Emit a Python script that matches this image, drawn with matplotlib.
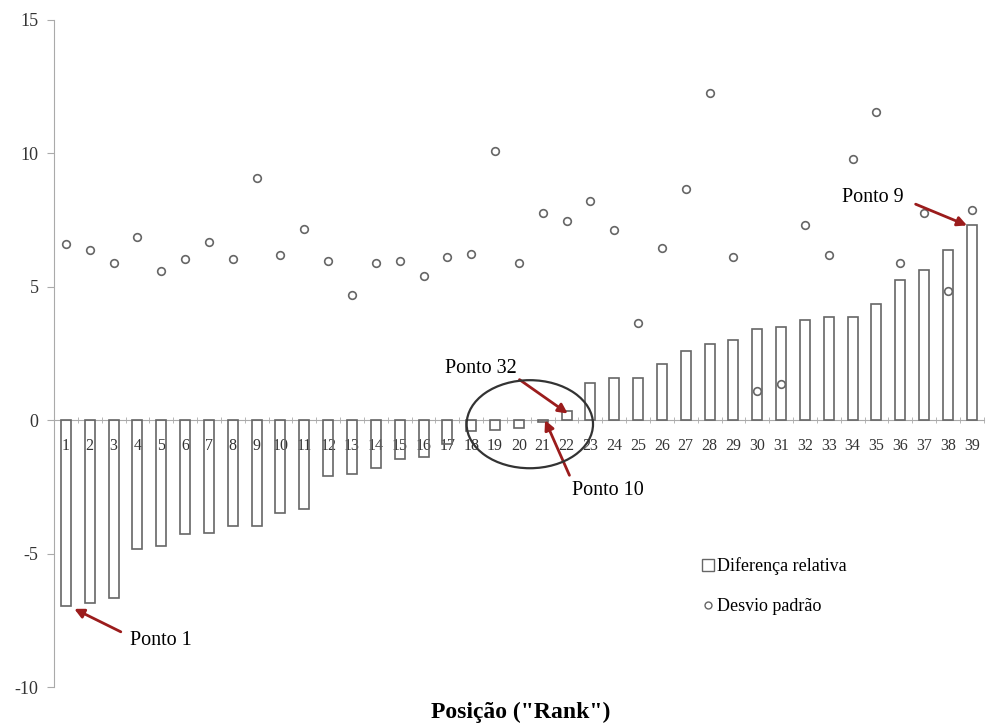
import numpy as np
import matplotlib.pyplot as plt
from matplotlib.lines import Line2D
from matplotlib.patches import Ellipse

plt.rcParams['font.family'] = ['Liberation Serif', 'DejaVu Serif']

rank = list(range(1, 40))
rank_labels = [str(r) for r in rank]

# Diferença relativa (barras)
diferenca = [-6.97, -6.84, -6.67, -4.81, -4.73, -4.27, -4.21, -3.98, -3.98, -3.46,
             -3.33, -2.10, -2.00, -1.80, -1.45, -1.38, -0.90, -0.42, -0.35, -0.30,
             -0.05, 0.35, 1.40, 1.60, 1.60, 2.10, 2.60, 2.87, 3.00, 3.43,
             3.50, 3.77, 3.85, 3.85, 4.37, 5.27, 5.64, 6.39, 7.30]

# Desvio padrão (pontos)
desvio = [6.60, 6.39, 5.89, 6.88, 5.61, 6.06, 6.67, 6.06, 9.09, 6.19,
          7.17, 5.98, 4.69, 5.90, 5.98, 5.39, 6.12, 6.24, 10.09, 5.90,
          7.75, 7.47, 8.20, 7.12, 3.64, 6.47, 8.66, 12.28, 6.12, 1.10,
          1.35, 7.33, 6.18, 9.80, 11.57, 5.90, 7.75, 4.84, 7.89]

yticks = [-10, -5, 0, 5, 10, 15]

seta = '#9b1c1c'
cinza = '#666666'

fig = plt.figure(figsize=(9.87, 7.27), dpi=100)
ax = fig.add_axes([0.0547, 0.055, 0.942, 0.9175])

ax.bar(rank, diferenca, width=0.42, facecolor='none', edgecolor=cinza,
       linewidth=1.2, zorder=2)
ax.plot(rank, desvio, linestyle='none', marker='o', markersize=5.5,
        markerfacecolor='white', markeredgecolor='#666666',
        markeredgewidth=1.2, zorder=3)

ax.set_xlim(0.5, 39.5)
ax.set_ylim(-10, 15)

for s in ['top', 'right']:
    ax.spines[s].set_visible(False)
ax.spines['left'].set_color('#aaaaaa')
ax.spines['bottom'].set_color('#aaaaaa')
ax.spines['bottom'].set_position(('data', 0))
ax.spines['bottom'].set_zorder(1)

ax.set_xticks(rank)
ax.set_xticklabels(rank_labels, fontsize=11.5, color='#333333')
ax.set_xticks(np.arange(0.5, 40, 1), minor=True)
ax.tick_params(axis='x', which='major', length=0, pad=13)
ax.tick_params(axis='x', which='minor', length=4, direction='inout',
               color='#aaaaaa')

ax.set_yticks(yticks)
ax.set_yticklabels([str(v) for v in yticks], fontsize=13, color='#333333')
ax.tick_params(axis='y', length=5, color='#aaaaaa', pad=6)

ax.add_patch(Ellipse((20.46, -0.15), 5.3, 3.3, fill=False,
                     edgecolor='#333333', linewidth=1.6, zorder=4))

props = dict(arrowstyle='-|>', color=seta, lw=2, mutation_scale=14)
ax.annotate('Ponto 1', xy=(1.35, diferenca[0] - 0.1), xytext=(3.68, -8.24),
            fontsize=14.5, ha='left', va='center',
            arrowprops=dict(props, relpos=(0, 0.7), shrinkA=5, shrinkB=0))
ax.annotate('Ponto 9', xy=(38.8, diferenca[38]), xytext=(36.15, 8.35),
            fontsize=14.5, ha='right', va='center',
            arrowprops=dict(props, relpos=(1, 0.4), shrinkA=7, shrinkB=0))
ax.annotate('Ponto 32', xy=(22.05, diferenca[21] - 0.1), xytext=(16.9, 1.95),
            fontsize=14.5, ha='left', va='center',
            arrowprops=dict(props, relpos=(1, 0), shrinkA=0, shrinkB=0))
ax.annotate('Ponto 10', xy=(21.1, 0.0), xytext=(22.22, -2.62),
            fontsize=14.5, ha='left', va='center',
            arrowprops=dict(props, relpos=(0, 1), shrinkA=2, shrinkB=0))

handles = [Line2D([], [], linestyle='none', marker='s', markersize=8,
                  markerfacecolor='white', markeredgecolor=cinza,
                  markeredgewidth=1),
           Line2D([], [], linestyle='none', marker='o', markersize=5,
                  markerfacecolor='white', markeredgecolor='#666666',
                  markeredgewidth=1)]
ax.legend(handles, ['Diferença relativa', 'Desvio padrão'], frameon=False,
          fontsize=13, loc='upper left', bbox_to_anchor=(0.69, 0.205),
          handlelength=0.6, handletextpad=0.2, labelspacing=1.25,
          borderaxespad=0)

fig.text(0.528, 0.02, 'Posição ("Rank")', fontsize=17, fontweight='bold',
         ha='center', va='center')

fig.savefig('out.png', dpi=100, facecolor='white')
